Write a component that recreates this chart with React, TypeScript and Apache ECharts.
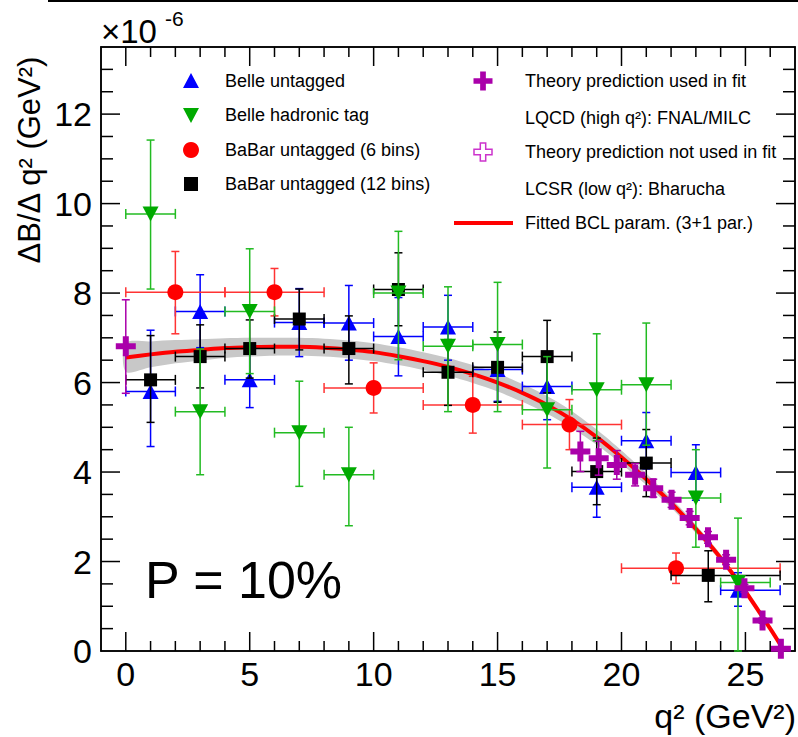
import React, { useEffect, useRef } from "react";
import * as echarts from "echarts";

const FONT = '"Liberation Sans", Arial, Helvetica, sans-serif';

// ---- Belle untagged (blue triangles)
const belleX = [1, 3, 5, 7, 9, 11, 13, 15, 17, 19, 21, 23, 24.7];
const belleY = [5.8, 7.59, 6.06, 7.34, 7.33, 7.03, 7.24, 6.29, 5.91, 3.66, 4.7, 3.99, 1.36];
const belleXLo = [0, 2, 4, 6, 8, 10, 12, 14, 16, 18, 20, 22, 24];
const belleXHi = [2, 4, 6, 8, 10, 12, 14, 16, 18, 20, 22, 24, 26.4];
const belleYLo = [4.57, 6.78, 5.44, 6.58, 6.5, 6.15, 6.5, 5.58, 5.17, 2.99, 4.07, 3.37, 1.0];
const belleYHi = [7.17, 8.41, 6.68, 8.1, 8.17, 7.9, 7.95, 7.0, 6.65, 4.33, 5.33, 4.61, 1.75];

// ---- Belle hadronic tag (green inverted triangles)
const hadX = [1, 3, 5, 7, 9, 11, 13, 15, 17, 19, 21, 23, 24.7];
const hadY = [9.77, 5.35, 7.59, 4.88, 3.94, 8.0, 6.81, 6.85, 5.39, 5.84, 5.95, 3.42, 1.53];
const hadXLo = [0, 2, 4, 6, 8, 10, 12, 14, 16, 18, 20, 22, 24];
const hadXHi = [2, 4, 6, 8, 10, 12, 14, 16, 18, 20, 22, 24, 26];
const hadYLo = [8.09, 3.94, 6.2, 3.68, 2.8, 6.51, 5.35, 5.35, 4.09, 4.7, 4.6, 2.32, 0];
const hadYHi = [11.42, 6.75, 8.99, 6.03, 5.0, 9.38, 8.14, 8.24, 6.58, 7.09, 7.33, 4.5, 2.97];

// ---- BaBar untagged (6 bins) (red circles)
const b6X = [2, 6, 10, 14, 17.9, 22.2];
const b6Y = [8.02, 8.02, 5.88, 5.5, 5.06, 1.85];
const b6XLo = [0, 4, 8, 12, 16, 20];
const b6XHi = [4, 8, 12, 16, 20, 26.4];
const b6YLo = [7.09, 7.49, 5.32, 4.87, 4.5, 1.51];
const b6YHi = [8.93, 8.55, 6.44, 6.14, 5.62, 2.19];

// ---- BaBar untagged (12 bins) (black squares)
const b12X = [1, 3, 5, 7, 9, 11, 13, 15, 17, 19, 21, 23.5];
const b12Y = [6.06, 6.58, 6.76, 7.42, 6.76, 8.08, 6.23, 6.34, 6.58, 4.01, 4.2, 1.69];
const b12XLo = [0, 2, 4, 6, 8, 10, 12, 14, 16, 18, 20, 22];
const b12XHi = [2, 4, 6, 8, 10, 12, 14, 16, 18, 20, 22, 26.4];
const b12YLo = [5.11, 5.88, 6.1, 6.73, 5.97, 7.27, 5.49, 5.56, 5.77, 3.27, 3.45, 1.1];
const b12YHi = [7.05, 7.29, 7.4, 8.09, 7.49, 8.9, 6.96, 7.13, 7.39, 4.76, 4.95, 2.24];

// ---- LQCD FNAL/MILC (used in fit, purple filled crosses)
const lqX = [18.34, 19.08, 19.81, 20.55, 21.28, 22.02, 22.75, 23.49, 24.22, 24.96, 25.69, 26.43];
const lqY = [4.46, 4.31, 4.16, 3.94, 3.64, 3.38, 2.97, 2.54, 2.04, 1.4, 0.68, 0.05];
const lqErr = [0.45, 0.38, 0.32, 0.25, 0.2, 0.17, 0.15, 0.13, 0.11, 0.09, 0.06, 0.03];

// ---- LCSR (low q2) point
const lcsrX = [0];
const lcsrY = [6.81];
const lcsrYLo = [5.76];
const lcsrYHi = [7.85];

// ---- Fitted BCL curve and its uncertainty band
const fitX = [0, 1, 2, 3, 4, 5, 6, 7, 8, 9, 10, 11, 12, 13, 14, 15, 16, 17, 18, 19, 20, 21, 22, 23, 24, 25, 26, 26.5];
const fitY = [6.56, 6.63, 6.69, 6.73, 6.77, 6.79, 6.8, 6.8, 6.78, 6.74, 6.68, 6.59, 6.48, 6.35, 6.19, 6.0, 5.77, 5.5, 5.17, 4.78, 4.33, 3.84, 3.31, 2.73, 2.08, 1.33, 0.5, 0.06];
const bandW = [0.32, 0.29, 0.26, 0.24, 0.22, 0.21, 0.2, 0.2, 0.2, 0.2, 0.2, 0.2, 0.2, 0.2, 0.2, 0.2, 0.2, 0.2, 0.19, 0.17, 0.15, 0.13, 0.11, 0.09, 0.08, 0.06, 0.04, 0.03];

// ---- Axis ticks
const xMajorTicks = [0, 5, 10, 15, 20, 25];
const xMinorTicks = [1, 2, 3, 4, 6, 7, 8, 9, 11, 12, 13, 14, 16, 17, 18, 19, 21, 22, 23, 24, 26];
const yMajorTicks = [2, 4, 6, 8, 10, 12];
const yMinorTicks = [0.5, 1, 1.5, 2.5, 3, 3.5, 4.5, 5, 5.5, 6.5, 7, 7.5, 8.5, 9, 9.5, 10.5, 11, 11.5, 12.5, 13];

const PLUS = "path://M3.5,0H6.5V3.5H10V6.5H6.5V10H3.5V6.5H0V3.5H3.5Z";

function errSeries(xs: number[], ys: number[], xlo: number[], xhi: number[], ylo: number[], yhi: number[], color: string, z: number) {
  return {
    type: "custom",
    z,
    silent: true,
    data: xs.map((x, i) => [x, ys[i], xlo[i], xhi[i], ylo[i], yhi[i]]),
    renderItem: (params: any, api: any) => {
      const x = api.value(0), y = api.value(1);
      const x0 = api.value(2), x1 = api.value(3), y0 = api.value(4), y1 = api.value(5);
      const p = api.coord([x, y]);
      const pl = api.coord([x0, y]);
      const pr = api.coord([x1, y]);
      const pb = api.coord([x, y0]);
      const pt = api.coord([x, y1]);
      const st = { stroke: color, lineWidth: 1.5, fill: "none" };
      const ln = (a: number, b: number, c: number, d: number) => ({ type: "line", shape: { x1: a, y1: b, x2: c, y2: d }, style: st });
      const ch: any[] = [];
      if (x1 !== x0) {
        ch.push(ln(pl[0], p[1], pr[0], p[1]));
        ch.push(ln(pl[0], p[1] - 5, pl[0], p[1] + 5));
        ch.push(ln(pr[0], p[1] - 5, pr[0], p[1] + 5));
      }
      if (y1 !== y0) {
        ch.push(ln(p[0], pb[1], p[0], pt[1]));
        ch.push(ln(p[0] - 4, pb[1], p[0] + 4, pb[1]));
        ch.push(ln(p[0] - 4, pt[1], p[0] + 4, pt[1]));
      }
      return { type: "group", children: ch };
    },
  };
}

function markerSeries(xs: number[], ys: number[], symbol: string, size: any, color: string, z: number, rotate = 0) {
  return {
    type: "scatter",
    z,
    silent: true,
    symbol,
    symbolSize: size,
    symbolRotate: rotate,
    itemStyle: { color, opacity: 1 },
    data: xs.map((x, i) => [x, ys[i]]),
  };
}

function plusPts(cx: number, cy: number, s: number) {
  const a = s * 0.15, b = s * 0.5;
  return [
    [cx - a, cy - b], [cx + a, cy - b], [cx + a, cy - a], [cx + b, cy - a], [cx + b, cy + a], [cx + a, cy + a],
    [cx + a, cy + b], [cx - a, cy + b], [cx - a, cy + a], [cx - b, cy + a], [cx - b, cy - a], [cx - a, cy - a],
  ];
}

export default function App() {
  const ref = useRef<HTMLDivElement>(null);
  useEffect(() => {
    if (!ref.current) return;
    const chart = echarts.init(ref.current, null, { renderer: "svg" });
    const tickData: any[] = [];
    xMajorTicks.forEach((v) => tickData.push([v, 0]));
    xMinorTicks.forEach((v) => tickData.push([v, 1]));
    yMajorTicks.forEach((v) => tickData.push([v, 2]));
    yMinorTicks.forEach((v) => tickData.push([v, 3]));

    const blue = "#0000ff", green = "#00aa00", greenE = "#22bb22", red = "#ff0000", redE = "#ff3333", purple = "#aa00aa";

    const legendText = (x: number, y: number, text: string) => ({
      type: "text",
      style: { x, y, text, fontSize: 18, fontFamily: FONT, fill: "#000", align: "left", verticalAlign: "middle" },
    });

    const frame = { show: true, onZero: false, lineStyle: { color: "#000", width: 1.5 } };

    const option: any = {
      animation: false,
      backgroundColor: "#fff",
      grid: { show: true, borderColor: "#000", borderWidth: 1.5, backgroundColor: "transparent", left: 101, right: 1, top: 47, bottom: 86, containLabel: false },
      xAxis: [
        {
          type: "value", min: -1, max: 27, interval: 1,
          axisLine: frame,
          axisTick: { show: false }, splitLine: { show: false },
          axisLabel: {
            color: "#000", fontSize: 34, fontFamily: FONT, margin: 6,
            formatter: (v: number) => (v >= 0 && v % 5 === 0 ? String(v) : ""),
          },
        },
        {
          type: "value", min: -1, max: 27, position: "top",
          axisLine: frame,
          axisTick: { show: false }, splitLine: { show: false }, axisLabel: { show: false },
        },
      ],
      yAxis: [
        {
          type: "value", min: 0, max: 13.5, interval: 0.5,
          axisLine: frame,
          axisTick: { show: false }, splitLine: { show: false },
          axisLabel: {
            color: "#000", fontSize: 34, fontFamily: FONT, margin: 9,
            formatter: (v: number) => (v % 2 === 0 && v <= 12 ? String(v) : ""),
          },
        },
        {
          type: "value", min: 0, max: 13.5, position: "right",
          axisLine: frame,
          axisTick: { show: false }, splitLine: { show: false }, axisLabel: { show: false },
        },
      ],
      series: [
        {
          type: "custom", z: 1, silent: true,
          data: fitX.map((x, i) => [x, fitY[i], bandW[i]]),
          renderItem: (params: any, api: any) => {
            if (params.dataIndex !== 0) return null;
            const up = fitX.map((x, i) => api.coord([x, fitY[i] + bandW[i]]));
            const lo = fitX.map((x, i) => api.coord([x, Math.max(0, fitY[i] - bandW[i])])).reverse();
            return { type: "polygon", shape: { points: up.concat(lo), smooth: 0.3 }, style: { fill: "#c8c8c8", stroke: "none" } };
          },
        },
        {
          type: "line", z: 2, silent: true, showSymbol: false, smooth: 0.3,
          data: fitX.map((x, i) => [x, fitY[i]]),
          lineStyle: { color: red, width: 4 },
        },
        errSeries(belleX, belleY, belleXLo, belleXHi, belleYLo, belleYHi, blue, 3),
        markerSeries(belleX, belleY, "triangle", [16, 15], blue, 4),
        errSeries(b6X, b6Y, b6XLo, b6XHi, b6YLo, b6YHi, redE, 5),
        markerSeries(b6X, b6Y, "circle", 16, red, 6),
        errSeries(b12X, b12Y, b12XLo, b12XHi, b12YLo, b12YHi, "#000", 7),
        markerSeries(b12X, b12Y, "rect", 13, "#000", 8),
        errSeries(hadX, hadY, hadXLo, hadXHi, hadYLo, hadYHi, greenE, 9),
        markerSeries(hadX, hadY, "triangle", [16, 15], green, 10, 180),
        errSeries(lqX, lqY, lqX, lqX, lqY.map((y, i) => y - lqErr[i]), lqY.map((y, i) => y + lqErr[i]), purple, 11),
        markerSeries(lqX, lqY, PLUS, 20, purple, 12),
        errSeries(lcsrX, lcsrY, lcsrX, lcsrX, lcsrYLo, lcsrYHi, purple, 11),
        markerSeries(lcsrX, lcsrY, PLUS, 20, purple, 12),
        {
          type: "custom", z: 20, silent: true,
          data: tickData,
          renderItem: (params: any, api: any) => {
            const v = api.value(0), kind = api.value(1);
            const cs = params.coordSys;
            const left = cs.x, right = cs.x + cs.width, top = cs.y, bottom = cs.y + cs.height;
            const st = { stroke: "#000", lineWidth: 1.5 };
            const ln = (a: number, b: number, c: number, d: number) => ({ type: "line", shape: { x1: a, y1: b, x2: c, y2: d }, style: st });
            if (kind < 2) {
              const px = api.coord([v, 0])[0];
              const L = kind === 0 ? 19 : 10;
              return { type: "group", children: [ln(px, bottom, px, bottom - L), ln(px, top, px, top + L)] };
            }
            const py = api.coord([0, v])[1];
            const L = kind === 2 ? 19 : 12;
            return { type: "group", children: [ln(left, py, left + L, py), ln(right, py, right - L, py)] };
          },
        },
      ],
      graphic: [
        { type: "rect", shape: { x: 48, y: 0, width: 750, height: 2 }, style: { fill: "#000" } },
        { type: "text", style: { x: 101, y: 31, text: "×10", fontSize: 33, fontFamily: FONT, fill: "#000", align: "left", verticalAlign: "middle" } },
        { type: "text", style: { x: 165, y: 18, text: "-6", fontSize: 21, fontFamily: FONT, fill: "#000", align: "left", verticalAlign: "middle" } },
        {
          type: "text", x: 29, y: 160, rotation: Math.PI / 2,
          style: { x: 0, y: 0, text: "ΔB/Δ q² (GeV²)", fontSize: 31, fontFamily: FONT, fill: "#000", align: "center", verticalAlign: "middle" },
        },
        { type: "text", style: { x: 796, y: 716, text: "q² (GeV²)", fontSize: 34, fontFamily: FONT, fill: "#000", align: "right", verticalAlign: "middle" } },
        { type: "text", style: { x: 145, y: 580, text: "P = 10%", fontSize: 52, fontFamily: FONT, fill: "#000", align: "left", verticalAlign: "middle" } },
        // legend, left column
        { type: "polygon", shape: { points: [[183, 88], [199, 88], [191, 73]] }, style: { fill: blue } },
        legendText(225, 81, "Belle untagged"),
        { type: "polygon", shape: { points: [[183, 108], [199, 108], [191, 123]] }, style: { fill: green } },
        legendText(225, 115, "Belle hadronic tag"),
        { type: "circle", shape: { cx: 191, cy: 150, r: 8 }, style: { fill: red } },
        legendText(225, 150, "BaBar untagged (6 bins)"),
        { type: "rect", shape: { x: 184, y: 177, width: 14, height: 14 }, style: { fill: "#000" } },
        legendText(225, 184, "BaBar untagged (12 bins)"),
        // legend, right column
        { type: "polygon", shape: { points: plusPts(483, 81, 19) }, style: { fill: purple } },
        legendText(525, 81, "Theory prediction used in fit"),
        legendText(525, 118, "LQCD (high q²): FNAL/MILC"),
        { type: "polygon", shape: { points: plusPts(483, 152, 18) }, style: { fill: "#fff", stroke: "#cc33cc", lineWidth: 1.5 } },
        legendText(525, 152, "Theory prediction not used in fit"),
        legendText(525, 189, "LCSR (low q²): Bharucha"),
        { type: "line", shape: { x1: 454, y1: 223, x2: 513, y2: 223 }, style: { stroke: red, lineWidth: 4 } },
        legendText(525, 223, "Fitted BCL param. (3+1 par.)"),
      ],
    };
    chart.setOption(option);
    return () => chart.dispose();
  }, []);
  return <div ref={ref} style={{ position: "absolute", left: 0, top: 0, width: 798, height: 737, background: "#fff" }} />;
}
